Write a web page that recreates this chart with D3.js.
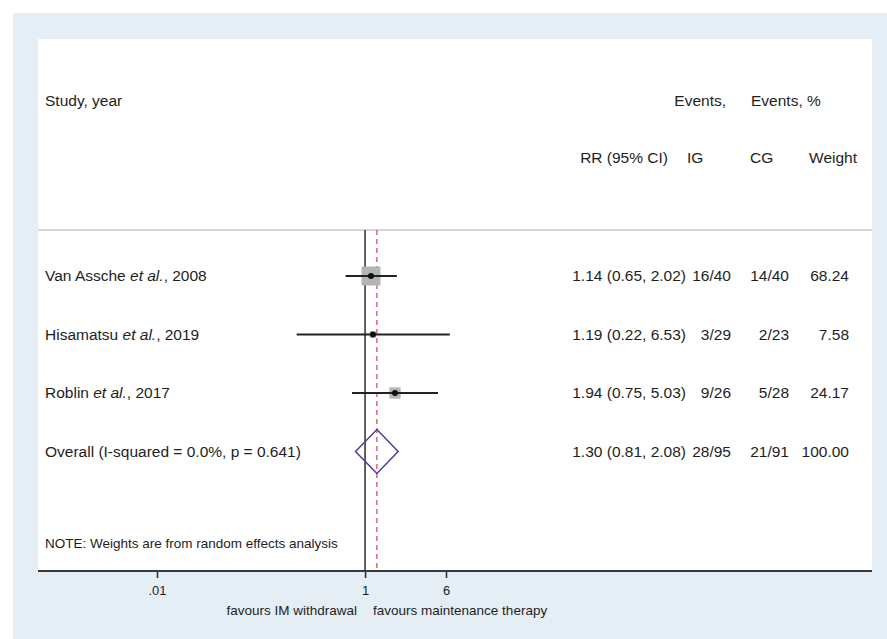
<!DOCTYPE html>
<html>
<head>
<meta charset="utf-8">
<script src="https://cdn.jsdelivr.net/npm/d3@7/dist/d3.min.js"></script>
<style>
  html, body { margin: 0; padding: 0; background: #ffffff; }
  svg { display: block; }
  text { font-family: "Liberation Sans", Arial, sans-serif; fill: #1e1e1e; }
</style>
</head>
<body>
<svg id="chart" width="887" height="639"></svg>
<script>
// Study rows
const authors = ["Van Assche", "Hisamatsu", "Roblin"];
const years = ["2008", "2019", "2017"];
const rr = [1.14, 1.19, 1.94];
const lower = [0.65, 0.22, 0.75];
const upper = [2.02, 6.53, 5.03];
const eventsIG = ["16/40", "3/29", "9/26"];
const eventsCG = ["14/40", "2/23", "5/28"];
const weights = [68.24, 7.58, 24.17];

// Pooled estimate
const overallLabel = "Overall (I-squared = 0.0%, p = 0.641)";
const overallRR = 1.30;
const overallLower = 0.81;
const overallUpper = 2.08;
const overallIG = "28/95";
const overallCG = "21/91";
const overallWeight = 100.00;

// Axis
const tickValues = [0.01, 1, 6];
const tickLabels = [".01", "1", "6"];
const leftCaption = "favours IM withdrawal";
const rightCaption = "favours maintenance therapy";
const note = "NOTE: Weights are from random effects analysis";

const svg = d3.select("#chart");

// Background panels
svg.append("rect").attr("x", 13).attr("y", 13).attr("width", 874).attr("height", 626).attr("fill", "#e5eef4");
svg.append("rect").attr("x", 38).attr("y", 39).attr("width", 834).attr("height", 532).attr("fill", "#ffffff");

const x = d3.scaleLog().domain([0.01, 6]).range([157, 446]);
const rowKeys = [...authors, "Overall"];
const y = d3.scalePoint().domain(rowKeys).range([276, 451.5]);
const boxSide = d3.scaleSqrt().domain([0, 100]).range([0, 23]);

const axisY = 571;
const sepY = 230;

// Separator under the header
svg.append("line").attr("x1", 38).attr("x2", 872).attr("y1", sepY).attr("y2", sepY)
  .attr("stroke", "#c8c8c8").attr("stroke-width", 1.5);

// Null line and pooled-estimate line
svg.append("line").attr("x1", x(1)).attr("x2", x(1)).attr("y1", sepY).attr("y2", axisY)
  .attr("stroke", "#3a3a3a").attr("stroke-width", 1.6);
svg.append("line").attr("x1", x(overallRR)).attr("x2", x(overallRR)).attr("y1", sepY).attr("y2", axisY)
  .attr("stroke", "#d2404e").attr("stroke-width", 1.2).attr("stroke-dasharray", "5,4");

// Axis
const axisG = svg.append("g").attr("transform", `translate(0,${axisY})`);
axisG.call(d3.axisBottom(x).tickValues(tickValues).tickFormat((d, i) => tickLabels[i]).tickSize(7).tickPadding(8));
axisG.select(".domain").remove();
axisG.selectAll(".tick line").attr("stroke", "#333").attr("stroke-width", 1.6);
axisG.selectAll(".tick text").attr("font-size", "13px").attr("fill", "#1e1e1e")
  .attr("font-family", "Liberation Sans, Arial, sans-serif");
svg.append("line").attr("x1", 38).attr("x2", 872).attr("y1", axisY).attr("y2", axisY)
  .attr("stroke", "#3a3a3a").attr("stroke-width", 2.2);

svg.append("text").attr("x", x(1) - 8).attr("y", 615).attr("text-anchor", "end")
  .attr("font-size", "13.5px").text(leftCaption);
svg.append("text").attr("x", x(1) + 8).attr("y", 615).attr("text-anchor", "start")
  .attr("font-size", "13.5px").text(rightCaption);

// Header
const fs = "15.5px";
function label(xp, yp, txt, anchor) {
  return svg.append("text").attr("x", xp).attr("y", yp).attr("dy", "0.35em")
    .attr("text-anchor", anchor || "start").attr("font-size", fs).text(txt);
}
label(45, 101, "Study, year");
label(726, 101, "Events,", "end");
label(751, 101, "Events, %");
label(668, 158, "RR (95% CI)", "end");
label(687, 158, "IG");
label(750, 158, "CG");
label(857, 158, "Weight", "end");

const fmt = d3.format(".2f");

// Study rows
authors.forEach((a, i) => {
  const yy = y(a);
  const t = svg.append("text").attr("x", 45).attr("y", yy).attr("dy", "0.35em").attr("font-size", fs);
  t.append("tspan").text(a + " ");
  t.append("tspan").attr("font-style", "italic").text("et al.");
  t.append("tspan").text(", " + years[i]);

  const s = boxSide(weights[i]);
  svg.append("rect").attr("x", x(rr[i]) - s / 2).attr("y", yy - s / 2)
    .attr("width", s).attr("height", s).attr("fill", "#b4b4b4");
  svg.append("line").attr("x1", x(lower[i])).attr("x2", x(upper[i])).attr("y1", yy).attr("y2", yy)
    .attr("stroke", "#222").attr("stroke-width", 1.8);
  svg.append("circle").attr("cx", x(rr[i])).attr("cy", yy).attr("r", 3).attr("fill", "#111");

  label(686, yy, `${fmt(rr[i])} (${fmt(lower[i])}, ${fmt(upper[i])})`, "end");
  label(731, yy, eventsIG[i], "end");
  label(789, yy, eventsCG[i], "end");
  label(849, yy, fmt(weights[i]), "end");
});

// Pooled row
const yo = y("Overall");
label(45, yo, overallLabel);
const dh = 22;
svg.append("path")
  .attr("d", `M${x(overallLower)},${yo} L${x(overallRR)},${yo - dh} L${x(overallUpper)},${yo} L${x(overallRR)},${yo + dh} Z`)
  .attr("fill", "none").attr("stroke", "#4a3f99").attr("stroke-width", 1.5);
label(686, yo, `${fmt(overallRR)} (${fmt(overallLower)}, ${fmt(overallUpper)})`, "end");
label(731, yo, overallIG, "end");
label(789, yo, overallCG, "end");
label(849, yo, fmt(overallWeight), "end");

// Footnote
svg.append("text").attr("x", 45).attr("y", 543).attr("dy", "0.35em").attr("font-size", "13.5px").text(note);
</script>
</body>
</html>
